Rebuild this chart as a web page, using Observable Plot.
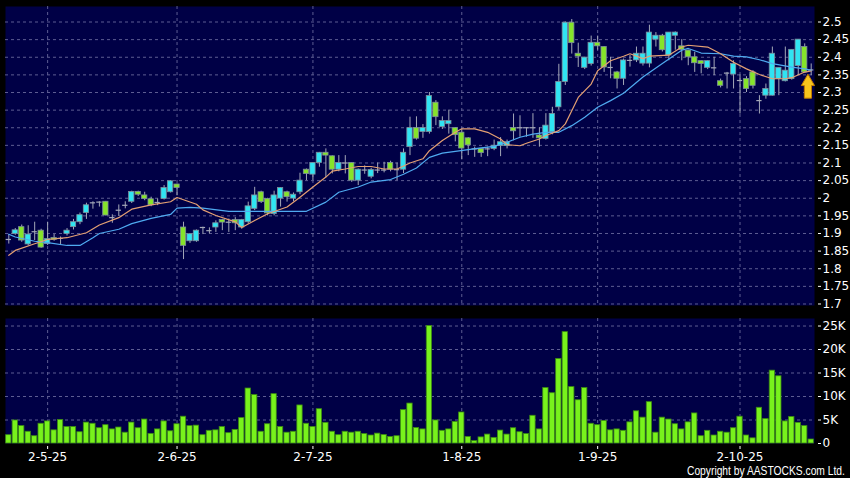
<!DOCTYPE html>
<html><head><meta charset="utf-8">
<script src="https://cdn.jsdelivr.net/npm/d3@7"></script>
<script src="https://cdn.jsdelivr.net/npm/@observablehq/plot@0.6"></script>
<style>
html,body{margin:0;padding:0;background:#000;}
#chart{position:relative;width:850px;height:478px;background:#000;overflow:hidden;}
#price{position:absolute;left:0;top:0;}
#vol{position:absolute;left:0;top:310px;}
#copy{position:absolute;right:5px;top:465px;color:#fff;font-size:13px;line-height:12px;font-family:"Liberation Sans",Arial,sans-serif;white-space:nowrap;transform:scaleX(0.79);transform-origin:right center;}
</style></head><body>
<div id="chart"><div id="price"></div><div id="vol"></div><div id="copy">Copyright by AASTOCKS.com Ltd.</div></div>
<script>
const opens = [1.883,1.899,1.918,1.869,1.905,1.908,1.870,1.887,1.886,1.899,1.918,1.932,1.958,1.987,1.989,1.990,1.945,1.966,1.980,1.990,
2.018,2.008,1.997,1.988,1.998,2.017,2.039,1.917,1.878,1.878,1.917,1.908,1.917,1.938,1.932,1.938,1.917,1.932,1.970,2.017,
1.998,1.955,1.999,2.017,1.999,2.017,2.081,2.067,2.100,2.129,2.119,2.081,2.100,2.100,2.050,2.080,2.061,2.080,2.080,2.100,
2.081,2.081,2.145,2.199,2.188,2.188,2.271,2.202,2.210,2.199,2.186,2.170,2.140,2.140,2.140,2.140,2.148,2.148,2.199,2.200,
2.200,2.200,2.178,2.168,2.187,2.258,2.330,2.498,2.410,2.370,2.381,2.441,2.429,2.371,2.357,2.339,2.391,2.391,2.382,2.382,
2.450,2.461,2.405,2.461,2.431,2.419,2.400,2.389,2.370,2.370,2.332,2.355,2.351,2.334,2.338,2.357,2.277,2.291,2.291,2.338,
2.332,2.338,2.375,2.429,2.364];
const highs = [1.897,1.914,1.924,1.922,1.932,1.912,1.932,1.897,1.890,1.914,1.940,1.958,1.986,1.990,1.990,1.991,1.953,1.981,1.990,2.020,
2.020,2.017,2.003,1.998,2.036,2.050,2.040,1.932,1.900,1.910,1.918,1.916,1.936,1.940,1.941,1.945,1.940,1.989,2.031,2.020,
2.000,2.020,2.030,2.020,2.015,2.071,2.083,2.100,2.130,2.140,2.120,2.121,2.121,2.100,2.083,2.092,2.085,2.100,2.102,2.105,
2.100,2.140,2.230,2.231,2.209,2.300,2.277,2.231,2.250,2.200,2.196,2.172,2.145,2.140,2.145,2.165,2.172,2.165,2.239,2.234,
2.200,2.240,2.200,2.240,2.258,2.380,2.500,2.507,2.440,2.400,2.460,2.460,2.430,2.400,2.360,2.395,2.405,2.429,2.429,2.491,
2.470,2.465,2.470,2.472,2.450,2.420,2.414,2.390,2.390,2.400,2.338,2.357,2.390,2.350,2.345,2.362,2.291,2.324,2.429,2.370,
2.429,2.421,2.450,2.438,2.381];
const lows = [1.870,1.895,1.875,1.865,1.880,1.858,1.866,1.878,1.867,1.893,1.910,1.925,1.940,1.969,1.975,1.950,1.929,1.948,1.970,1.985,
2.005,1.993,1.976,1.979,1.995,2.015,2.007,1.826,1.872,1.875,1.897,1.899,1.903,1.908,1.903,1.908,1.912,1.927,1.965,1.985,
1.950,1.950,1.975,1.989,1.990,2.010,2.050,2.050,2.088,2.058,2.069,2.075,2.069,2.045,2.036,2.068,2.055,2.070,2.072,2.075,
2.050,2.070,2.121,2.165,2.170,2.182,2.206,2.195,2.182,2.160,2.109,2.121,2.116,2.116,2.118,2.135,2.118,2.140,2.163,2.173,
2.173,2.170,2.145,2.165,2.180,2.250,2.320,2.409,2.371,2.365,2.375,2.420,2.357,2.339,2.310,2.320,2.372,2.385,2.375,2.370,
2.429,2.415,2.390,2.420,2.390,2.376,2.357,2.353,2.365,2.348,2.313,2.310,2.310,2.239,2.300,2.310,2.239,2.281,2.290,2.291,
2.330,2.335,2.348,2.355,2.348];
const closes = [1.883,1.909,1.880,1.897,1.905,1.860,1.884,1.882,1.886,1.908,1.932,1.952,1.980,1.987,1.989,1.951,1.945,1.966,1.980,2.018,
2.010,1.998,1.980,1.988,2.029,2.048,2.029,1.865,1.898,1.908,1.917,1.908,1.929,1.931,1.932,1.929,1.938,1.977,2.008,1.989,
1.957,2.008,2.029,2.003,2.010,2.050,2.069,2.100,2.129,2.121,2.081,2.100,2.100,2.050,2.081,2.080,2.080,2.080,2.080,2.081,
2.081,2.129,2.199,2.169,2.199,2.290,2.230,2.219,2.219,2.179,2.141,2.150,2.140,2.128,2.140,2.149,2.159,2.159,2.190,2.200,
2.200,2.200,2.170,2.206,2.239,2.330,2.498,2.440,2.402,2.399,2.441,2.431,2.371,2.371,2.339,2.391,2.391,2.410,2.410,2.470,
2.461,2.420,2.470,2.470,2.421,2.400,2.383,2.381,2.389,2.370,2.319,2.355,2.381,2.334,2.310,2.319,2.277,2.310,2.410,2.370,
2.362,2.421,2.450,2.357,2.364];
// volume in thousands of shares
const volumes = [1.77,4.9,3.7,2.5,1.55,4.2,4.7,2.8,5.0,3.5,3.5,2.4,4.45,4.2,3.25,3.9,3.0,3.4,2.3,4.45,
3.25,5.1,2.05,3.0,4.7,2.6,4.1,5.7,3.7,3.8,1.77,2.7,2.8,3.5,2.2,2.9,5.4,11.7,10.3,2.5,
4.1,10.5,3.5,2.3,2.5,8.1,4.2,3.5,7.3,4.4,2.5,1.77,2.5,2.3,2.5,2.0,1.7,2.1,1.8,1.4,
1.55,7.1,8.5,3.3,3.0,25.0,4.9,2.7,3.0,4.6,6.6,1.4,0.5,1.3,1.9,1.2,2.75,1.9,3.25,2.4,
2.0,5.9,3.0,11.8,10.7,18.0,23.7,12.0,9.2,11.8,4.2,3.9,4.8,2.8,3.0,2.7,4.5,6.85,5.5,8.8,
2.3,5.5,5.1,4.1,3.0,4.5,6.4,1.55,2.7,1.7,2.5,2.3,3.25,5.7,1.7,1.1,7.6,5.2,15.5,14.3,
4.7,5.65,4.4,3.7,0.85];
// moving averages: [bar index, value]
const maShort = [[0,1.838],[1,1.852],[4,1.871],[6,1.883],[9,1.888],[12,1.902],[14,1.924],[17,1.945],[19,1.969],[22,1.981],[25,1.990],[26,2.002],[29,1.983],[30,1.967],[32,1.951],[35,1.933],[36,1.917],[38,1.937],[40,1.956],[43,1.975],[45,2.003],[47,2.032],[49,2.060],[50,2.077],[52,2.083],[54,2.090],[56,2.090],[58,2.083],[60,2.083],[62,2.100],[64,2.112],[65,2.135],[67,2.164],[69,2.187],[70,2.197],[72,2.197],[74,2.187],[76,2.168],[77,2.152],[79,2.149],[80,2.156],[82,2.168],[83,2.178],[85,2.192],[86,2.211],[87,2.248],[88,2.286],[90,2.324],[91,2.362],[93,2.390],[95,2.403],[96,2.410],[98,2.396],[99,2.403],[102,2.406],[104,2.429],[105,2.434],[108,2.429],[110,2.410],[112,2.386],[114,2.367],[116,2.351],[118,2.339],[120,2.339],[121,2.342],[123,2.358],[124,2.361]];
const maLong = [[0,1.898],[1,1.890],[4,1.878],[6,1.874],[9,1.866],[11,1.866],[13,1.888],[14,1.900],[17,1.912],[19,1.928],[22,1.943],[25,1.954],[26,1.972],[28,1.974],[30,1.972],[34,1.963],[40,1.963],[46,1.963],[49,1.989],[51,2.017],[54,2.032],[56,2.046],[59,2.053],[61,2.068],[63,2.086],[65,2.116],[67,2.128],[69,2.133],[71,2.138],[73,2.143],[75,2.147],[77,2.159],[79,2.173],[81,2.182],[83,2.187],[85,2.187],[87,2.206],[89,2.230],[91,2.258],[93,2.277],[95,2.298],[98,2.344],[101,2.382],[104,2.420],[105,2.425],[107,2.412],[110,2.410],[112,2.403],[114,2.401],[116,2.393],[118,2.382],[121,2.372],[123,2.367],[124,2.363]];
const dateTickIdx = [6,26,47,70,91,113];
const dateTickLabels = ["2-5-25","2-6-25","2-7-25","1-8-25","1-9-25","2-10-25"];
const priceTicks = [1.7,1.75,1.8,1.85,1.9,1.95,2.0,2.05,2.1,2.15,2.2,2.25,2.3,2.35,2.4,2.45,2.5];
const volTicks = [0,5,10,15,20,25];
const arrowMark = [{i:123, price:2.318}];

const N = opens.length;
const bars = d3.range(N).map(i => ({i, o: opens[i], h: highs[i], l: lows[i], c: closes[i], v: volumes[i]}));
const NAVY = "#000046", GRID = "#5d5d92", CYAN = "#30e4f2", GREEN = "#86e42a", WICK = "#a4a8b8";
const xScale = {type: "band", domain: d3.range(N), paddingInner: 0.18, paddingOuter: 0.1, axis: null};
const style = {background: "transparent", color: "#fff", fontFamily: "DejaVu Sans, Verdana, sans-serif", fontSize: "12px", overflow: "visible"};
const fmtPrice = d => String(+d.toFixed(2));
const dateFmt = i => dateTickLabels[dateTickIdx.indexOf(i)];

const arrowSymbol = {
  draw(ctx, size) {
    const r = Math.sqrt(size / Math.PI);
    const hw = r * 0.55, sw = r * 0.3, hb = -r * 0.05;
    ctx.moveTo(0, -r);
    ctx.lineTo(hw, hb);
    ctx.lineTo(sw, hb);
    ctx.lineTo(sw, r);
    ctx.lineTo(-sw, r);
    ctx.lineTo(-sw, hb);
    ctx.lineTo(-hw, hb);
    ctx.closePath();
  }
};

const price = Plot.plot({
  width: 850, height: 310,
  marginLeft: 5, marginRight: 36, marginTop: 6, marginBottom: 5,
  style,
  x: xScale,
  y: {domain: [1.6957, 2.544], axis: null},
  marks: [
    Plot.frame({fill: NAVY, stroke: null}),
    Plot.ruleY(priceTicks, {stroke: GRID, strokeDasharray: "3,3"}),
    Plot.ruleX(dateTickIdx, {stroke: GRID, strokeDasharray: "3,3"}),
    Plot.ruleX(bars, {x: "i", y1: "l", y2: "h", stroke: WICK, strokeWidth: 1}),
    Plot.barY(bars.filter(d => d.o !== d.c), {x: "i", y1: "o", y2: "c", fill: d => d.c > d.o ? CYAN : GREEN, stroke: "#7d8f9c", strokeWidth: 0.8}),
    Plot.tickY(bars.filter(d => d.o === d.c), {x: "i", y: "c", stroke: WICK, strokeWidth: 1.2}),
    Plot.line(maLong, {x: d => d[0], y: d => d[1], stroke: "#4faaf0", strokeWidth: 1.2}),
    Plot.line(maShort, {x: d => d[0], y: d => d[1], stroke: "#e4a073", strokeWidth: 1.2}),
    Plot.dot(arrowMark, {x: "i", y: "price", symbol: arrowSymbol, r: 12, dx: 3.2, fill: "#f8c51c", stroke: "#c07a00", strokeWidth: 1}),
    Plot.axisY({anchor: "right", ticks: priceTicks, tickFormat: fmtPrice, tickSize: 3, dx: 3, tickPadding: 2, label: null})
  ]
});
document.getElementById("price").append(price);

const vol = Plot.plot({
  width: 850, height: 168,
  marginLeft: 5, marginRight: 36, marginTop: 8, marginBottom: 35,
  style,
  x: xScale,
  y: {domain: [0, 26.6], axis: null},
  marks: [
    Plot.frame({fill: NAVY, stroke: null}),
    Plot.ruleY(volTicks.filter(d => d > 0), {stroke: GRID, strokeDasharray: "3,3"}),
    Plot.ruleX(dateTickIdx, {stroke: GRID, strokeDasharray: "3,3"}),
    Plot.barY(bars, {x: "i", y: "v", fill: "#78f21c", stroke: "#3c8c12", strokeWidth: 0.8}),
    Plot.axisY({anchor: "right", ticks: volTicks, tickFormat: d => d === 0 ? "0" : d + "K", tickSize: 3, dx: 3, tickPadding: 2, label: null}),
    Plot.axisX({anchor: "bottom", ticks: dateTickIdx, tickFormat: dateFmt, tickSize: 3, dy: 3, tickPadding: 3, label: null})
  ]
});
document.getElementById("vol").append(vol);
</script>
</body></html>
